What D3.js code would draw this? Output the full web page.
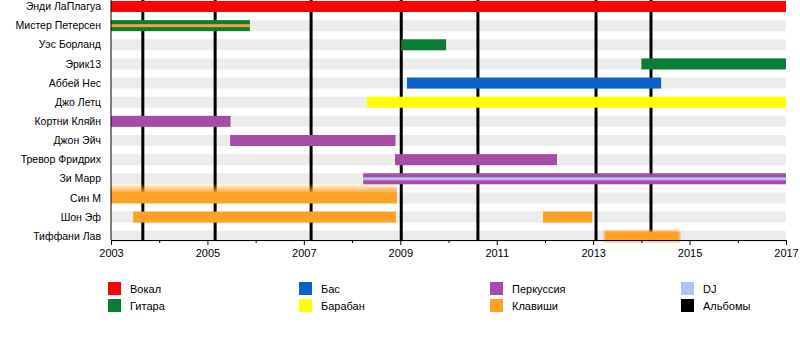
<!DOCTYPE html>
<html>
<head>
<meta charset="utf-8">
<script src="https://cdn.jsdelivr.net/npm/d3@7"></script>
<style>
  body { margin: 0; background: #fff; }
  text { font-family: "Liberation Sans", Arial, sans-serif; font-size: 11px; fill: #000; }
</style>
</head>
<body>
<div id="chart"></div>
<script>
// band members, top to bottom
const members = ["Энди ЛаПлагуа", "Мистер Петерсен", "Уэс Борланд", "Эрик13", "Аббей Нес",
    "Джо Летц", "Кортни Кляйн", "Джон Эйч", "Тревор Фридрих", "Зи Марр", "Син М", "Шон Эф", "Тиффани Лав"];

const roles = ["Вокал", "Гитара", "Бас", "Барабан", "Перкуссия", "Клавиши", "DJ"];
const roleColors = ["#ff0000", "#0a7d35", "#0860c8", "#ffff00", "#a64ca6", "#ffa028", "#b0c4f2"];

// main spans [member, role, from, to]
const spans = [
    ["Энди ЛаПлагуа", "Вокал", 2003, 2017],
    ["Мистер Петерсен", "Гитара", 2003, 2005.88],
    ["Уэс Борланд", "Гитара", 2009.02, 2009.95],
    ["Эрик13", "Гитара", 2014.0, 2017],
    ["Аббей Нес", "Бас", 2009.14, 2014.41],
    ["Джо Летц", "Барабан", 2008.31, 2017],
    ["Кортни Кляйн", "Перкуссия", 2003, 2005.48],
    ["Джон Эйч", "Перкуссия", 2005.47, 2008.9],
    ["Тревор Фридрих", "Перкуссия", 2008.89, 2012.25],
    ["Зи Марр", "Перкуссия", 2008.23, 2017],
    ["Син М", "Клавиши", 2003, 2008.93],
    ["Шон Эф", "Клавиши", 2003.46, 2008.91],
    ["Шон Эф", "Клавиши", 2011.96, 2012.98],
    ["Тиффани Лав", "Клавиши", 2013.23, 2014.8]
];

// secondary roles (thin stripe inside the bar)
const stripes = [
    ["Мистер Петерсен", "Клавиши", 2003, 2005.88],
    ["Зи Марр", "DJ", 2008.23, 2017]
];

const albums = [2003.66, 2005.16, 2007.15, 2009.02, 2010.61, 2013.06, 2014.2];

const yearTicks = [2003, 2005, 2007, 2009, 2011, 2013, 2015, 2017];
const minorTicks = [2004, 2006, 2008, 2010, 2012, 2014, 2016];

const width = 800, height = 360;
const axisY = 240;
const barH = 11;

const svg = d3.select("#chart").append("svg")
    .attr("width", width)
    .attr("height", height);

const x = d3.scaleLinear().domain([2003, 2017]).range([111, 786]);
const y = d3.scalePoint().domain(members).range([6.5, 236.2]);
const color = d3.scaleOrdinal().domain(roles).range(roleColors);

const defs = svg.append("defs");
const grad = defs.append("linearGradient")
    .attr("id", "fade").attr("x1", 0).attr("y1", 0).attr("x2", 0).attr("y2", 1);
grad.append("stop").attr("offset", "0%").attr("stop-color", "#ffa028").attr("stop-opacity", 0);
grad.append("stop").attr("offset", "100%").attr("stop-color", "#ffa028").attr("stop-opacity", 1);
defs.append("filter").attr("id", "blur")
    .append("feGaussianBlur").attr("stdDeviation", 0.8);

// gray background rows
svg.append("g").selectAll("rect")
    .data(members)
    .enter()
    .append("rect")
    .attr("x", x(2003))
    .attr("y", d => y(d) - barH / 2)
    .attr("width", x(2017) - x(2003))
    .attr("height", barH)
    .attr("rx", 1.5)
    .attr("fill", "#ececec");

// album lines
svg.append("g").selectAll("line")
    .data(albums)
    .enter()
    .append("line")
    .attr("x1", d => x(d))
    .attr("x2", d => x(d))
    .attr("y1", 0)
    .attr("y2", axisY)
    .attr("stroke", "#000")
    .attr("stroke-width", 3);

// fuzzy top of Син М bar
svg.append("rect")
    .attr("x", x(2003))
    .attr("y", y("Син М") - barH / 2 - 9)
    .attr("width", x(2008.93) - x(2003))
    .attr("height", 10)
    .attr("fill", "url(#fade)");

// main bars
svg.append("g").selectAll("rect")
    .data(spans)
    .enter()
    .append("rect")
    .attr("x", d => x(d[2]))
    .attr("y", d => y(d[0]) - barH / 2)
    .attr("width", d => x(d[3]) - x(d[2]))
    .attr("height", barH)
    .attr("fill", d => color(d[1]))
    .attr("filter", d => d[0] === "Тиффани Лав" ? "url(#blur)" : null);

// stripes
svg.append("g").selectAll("rect")
    .data(stripes)
    .enter()
    .append("rect")
    .attr("x", d => x(d[2]))
    .attr("y", d => y(d[0]) - 1.5)
    .attr("width", d => x(d[3]) - x(d[2]))
    .attr("height", 3)
    .attr("fill", d => color(d[1]));

// member names
svg.append("g").selectAll("text")
    .data(members)
    .enter()
    .append("text")
    .attr("x", 101)
    .attr("y", d => y(d))
    .attr("dy", "0.35em")
    .attr("text-anchor", "end")
    .style("font-size", "10.5px")
    .text(d => d);

// left line
svg.append("line")
    .attr("x1", x(2003)).attr("x2", x(2003))
    .attr("y1", 0).attr("y2", axisY)
    .attr("stroke", "#000");

// axis
const xAxis = svg.append("g")
    .attr("transform", `translate(0,${axisY})`)
    .call(d3.axisBottom(x).tickValues(yearTicks).tickSize(5).tickFormat(d3.format("d")));
xAxis.select(".domain").attr("stroke", "#000");
xAxis.selectAll("text")
    .style("font-family", "Liberation Sans, Arial, sans-serif")
    .style("font-size", "11px")
    .attr("y", 9);

const minorAxis = svg.append("g")
    .attr("transform", `translate(0,${axisY})`)
    .call(d3.axisBottom(x).tickValues(minorTicks).tickSize(3).tickFormat(""));
minorAxis.select(".domain").remove();

// legend
const legendItems = roles.concat(["Альбомы"]);
const legendColors = roleColors.concat(["#000"]);
const legendX = [108, 108, 299, 299, 490, 490, 681, 681];
const legendY = [282, 299, 282, 299, 282, 299, 282, 299];
const legendOrder = [0, 1, 2, 3, 4, 5, 6, 7];

const legend = svg.append("g").selectAll("g")
    .data(legendOrder)
    .enter()
    .append("g")
    .attr("transform", i => `translate(${legendX[i]},${legendY[i]})`);

legend.append("rect")
    .attr("width", 13)
    .attr("height", 13)
    .attr("fill", i => legendColors[i]);

legend.append("text")
    .attr("x", 22)
    .attr("y", 7)
    .attr("dy", "0.35em")
    .text(i => legendItems[i]);
</script>
</body>
</html>
